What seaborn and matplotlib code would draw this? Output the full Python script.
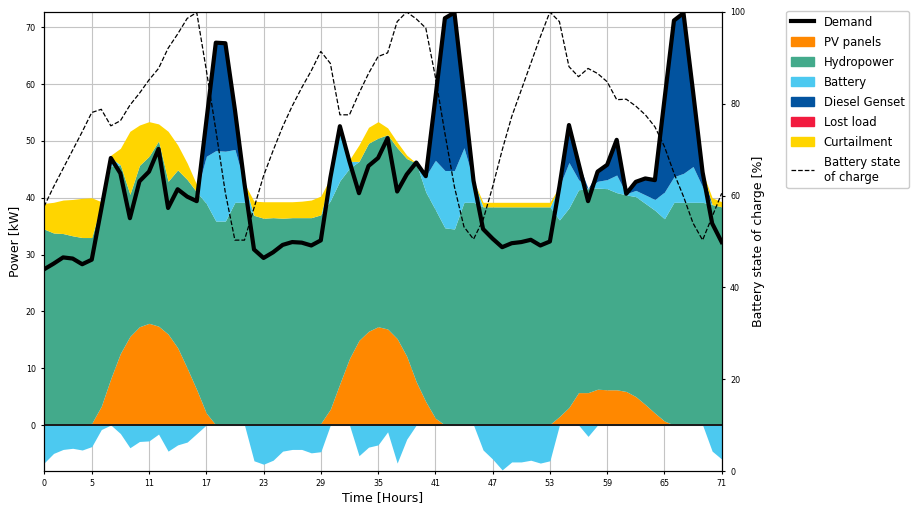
import numpy as np
import matplotlib
matplotlib.use("Agg")
import matplotlib.pyplot as plt
import seaborn as sns
from matplotlib.patches import Patch
from matplotlib.lines import Line2D

# hourly dispatch values [kW]
hours = np.arange(72)

pv = [0, 0, 0, 0, 0, 0.3, 3.3, 8.2, 12.6, 15.6, 17.3, 17.9, 17.4, 16.0, 13.6, 10.0, 6.2, 2.1,
      0, 0, 0, 0, 0, 0, 0, 0, 0, 0, 0, 0.3, 2.8, 7.3, 11.7, 14.9, 16.5, 17.3, 16.9, 15.2,
      12.1, 7.6, 4.1, 1.2, 0, 0, 0, 0, 0, 0, 0, 0, 0, 0, 0, 0.1, 1.5, 3.1, 5.7, 5.7,
      6.3, 6.2, 6.2, 5.9, 5.0, 3.6, 2.1, 0.7, 0, 0, 0, 0, 0, 0]

hydro = [34.5, 33.8, 33.7, 33.3, 33.0, 32.7, 35.5, 37.4, 33.2, 25.0, 28.4, 29.4, 32.6, 26.9,
         31.3, 33.2, 34.8, 36.9, 35.9, 35.9, 39.2, 39.2, 36.9, 36.4, 36.5, 36.4, 36.5, 36.5,
         36.5, 36.7, 36.7, 35.7, 33.5, 31.5, 33.1, 33.2, 34.2, 33.6, 34.8, 38.5, 36.9, 36.7,
         34.7, 34.5, 39.2, 39.2, 38.4, 38.4, 38.4, 38.4, 38.4, 38.4, 38.4, 38.3, 34.6, 35.1,
         35.7, 35.9, 35.4, 35.4, 34.7, 34.6, 35.2, 35.4, 35.7, 35.6, 39.2, 39.2, 39.2, 39.2,
         38.8, 38.4]

battery_out = [0, 0, 0, 0, 0, 0, 0, 1.4, 0, 0, 0, 0, 0, 0, 0, 0, 0, 8.3, 12.4, 12.3, 9.3, 3.3,
               0, 0, 0, 0, 0, 0, 0, 0, 4.0, 9.6, 1.2, 0, 0, 0, 0, 0, 0, 0, 2.8, 8.7, 10.1,
               10.3, 9.6, 3.8, 0, 0, 0, 0, 0, 0, 0, 0, 5.9, 8.0, 1.8, 0, 1.2, 1.6, 3.1, 0.2,
               1.1, 1.5, 1.9, 4.7, 4.5, 5.1, 6.3, 2.7, 0, 0]

diesel = [0, 0, 0, 0, 0, 0, 0, 0, 0, 0, 0, 0, 0, 0, 0, 0, 0, 6.1, 19.0, 19.0, 7.0, 0,
          0, 0, 0, 0, 0, 0, 0, 0, 0, 0, 0, 0, 0, 0, 0, 0, 0, 0, 0, 10.9, 26.8, 27.8, 9.2, 0,
          0, 0, 0, 0, 0, 0, 0, 0, 0, 6.6, 2.9, 0, 1.7, 2.6, 6.2, 0, 1.5, 2.9, 3.4, 16.2,
          27.5, 28.2, 13.2, 2.6, 0, 0]

lost_load = [0] * 72

curtailment = [4.5, 5.4, 5.9, 6.4, 6.9, 7.0, 0.5, 0.5, 2.9, 11.1, 7.1, 6.1, 3.0, 8.8, 4.4, 2.9,
               1.3, 0, 0, 0, 0, 0, 2.5, 2.9, 2.8, 2.9, 2.8, 2.9, 3.1, 3.3, 0, 0, 0.3, 2.9, 2.8,
               2.9, 1.2, 1.0, 0.6, 0, 0, 0, 0, 0, 0, 0, 0.8, 0.8, 0.8, 0.8, 0.8, 0.8, 0.8, 0.8,
               0, 0, 0, 0, 0, 0, 0, 0, 0, 0, 0, 0, 0, 0, 0, 0, 1.2, 0.9]

battery_in = [-6.7, -5.0, -4.3, -4.1, -4.4, -3.8, -0.8, 0, -1.5, -4.0, -2.9, -2.8, -1.6, -4.6,
              -3.5, -3.0, -1.5, 0, 0, 0, 0, 0, -6.3, -6.9, -6.2, -4.6, -4.3, -4.3, -4.9, -4.7,
              0, 0, 0, -5.4, -3.9, -3.5, -1.2, -6.7, -2.5, 0, 0, 0, 0, 0, 0, 0, -4.4, -6.0,
              -7.9, -6.5, -6.5, -6.2, -6.7, -6.3, 0, 0, 0, -2.0, 0, 0, 0, 0, 0, 0, 0, 0, 0, 0,
              0, 0, -4.6, -6.0]

demand = [27.4, 28.4, 29.5, 29.3, 28.3, 29.1, 38.0, 47.0, 44.3, 36.4, 42.9, 44.6, 48.6, 38.2,
          41.5, 40.2, 39.4, 53.4, 67.3, 67.2, 55.5, 42.5, 30.9, 29.4, 30.4, 31.7, 32.2, 32.1,
          31.6, 32.5, 43.5, 52.6, 46.4, 40.8, 45.6, 47.0, 50.5, 41.1, 44.1, 46.2, 43.8, 57.5,
          71.6, 72.6, 58.0, 43.0, 34.5, 32.8, 31.3, 32.0, 32.2, 32.6, 31.6, 32.3, 42.0, 52.8,
          46.1, 39.4, 44.6, 45.8, 50.2, 40.7, 42.8, 43.4, 43.1, 57.2, 71.2, 72.5, 58.7, 44.5,
          35.5, 32.2]

# battery state of charge [%]
soc = [57.6, 61.9, 65.9, 69.9, 73.9, 78.1, 78.8, 75.2, 76.3, 79.7, 82.3, 85.2, 87.7, 92.1, 95.2,
       98.6, 99.9, 87.4, 74.3, 60.6, 50.3, 50.3, 57.3, 64.3, 69.8, 75.0, 79.5, 83.5, 87.2, 91.4,
       88.8, 77.6, 77.6, 82.3, 86.6, 90.3, 91.1, 97.9, 100.0, 98.5, 96.5, 85.9, 73.6, 61.9, 53.2,
       50.5, 54.7, 61.9, 69.9, 77.2, 83.0, 88.8, 94.6, 100.0, 97.9, 88.1, 85.9, 87.7, 86.6, 84.8,
       80.9, 81.0, 79.5, 77.6, 75.0, 70.7, 64.9, 59.8, 54.0, 50.3, 55.4, 60.5]

xticks = [0, 5, 11, 17, 23, 29, 35, 41, 47, 53, 59, 65, 71]

colors = {"PV panels": "#FF8800", "Hydropower": "#43AA8B", "Battery": "#4CC9F0",
          "Diesel Genset": "#02539F", "Lost load": "#F21B3F", "Curtailment": "#FFD500"}

fig = plt.figure(figsize=(9.17, 5.08), dpi=100)
ax = fig.add_axes([0.048, 0.0728, 0.739, 0.9036])

# stacked generation
base = np.zeros(len(hours))
for name, vals in [("PV panels", pv), ("Hydropower", hydro), ("Battery", battery_out),
                   ("Diesel Genset", diesel), ("Lost load", lost_load), ("Curtailment", curtailment)]:
    top = base + np.array(vals)
    ax.fill_between(hours, base, top, color=colors[name], lw=0)
    base = top
# battery charging below zero
ax.fill_between(hours, 0, battery_in, color=colors["Battery"], lw=0)

ax.axhline(0, color="#1a1a1a", lw=1.4, zorder=2.5)
sns.lineplot(x=hours, y=demand, ax=ax, color="black", linewidth=3, zorder=3)

ax.set_xlim(0, 71)
ax.set_ylim(-8.1, 72.7)
ax.set_xticks(xticks)
ax.set_yticks(range(0, 71, 10))
ax.set_axisbelow(True)
ax.grid(True, color="#c4c4c4", lw=0.8)
ax.tick_params(labelsize=5.8, length=2.5)
ax.set_xlabel("Time [Hours]", fontsize=9, labelpad=2)
ax.set_ylabel("Power [kW]", fontsize=9, labelpad=3)

ax2 = ax.twinx()
sns.lineplot(x=hours, y=soc, ax=ax2, color="black", linestyle="--", linewidth=0.9)
ax2.set_ylim(0, 100)
ax2.set_yticks(range(0, 101, 20))
ax2.tick_params(labelsize=5.8, length=2.5)
ax2.set_ylabel("Battery state of charge [%]", fontsize=9, labelpad=5)

handles = [Line2D([0], [0], color="black", lw=3, label="Demand")]
handles += [Patch(color=c, label=n) for n, c in colors.items()]
handles.append(Line2D([0], [0], color="black", ls="--", lw=0.9, label="Battery state\nof charge"))
fig.legend(handles=handles, loc="upper left", bbox_to_anchor=(0.851, 0.99), fontsize=8.4,
           framealpha=1, edgecolor="#cccccc", labelspacing=0.6)

fig.savefig("out.png", dpi=100)
